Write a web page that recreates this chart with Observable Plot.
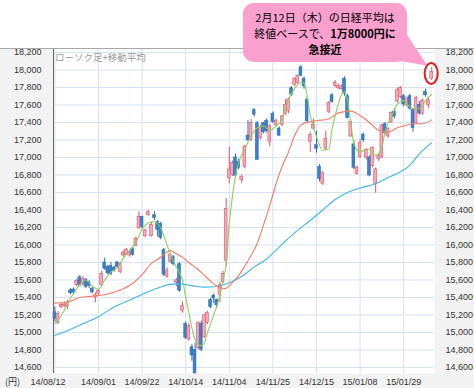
<!DOCTYPE html>
<html><head><meta charset="utf-8">
<script src="https://cdn.jsdelivr.net/npm/d3@7"></script>
<script src="https://cdn.jsdelivr.net/npm/@observablehq/plot@0.6"></script>
<style>
body{margin:0;background:#fff;width:474px;height:388px;position:relative;overflow:hidden;font-family:"Liberation Sans",Arial,sans-serif;}
#bg{position:absolute;left:0;top:49px;width:474px;height:339px;background:#f2f2f2;}
#chart{position:absolute;left:0;top:44px;width:474px;height:344px;}
#chart svg{display:block;}
#topline{position:absolute;left:0;top:48px;width:474px;height:1px;background:#a8a8a8;z-index:2;}
#yen{position:absolute;left:5px;top:375px;font-size:9px;color:#333;font-family:"Noto Sans CJK JP",sans-serif;}
#ttl{position:absolute;left:55px;top:51px;font-size:9.5px;color:#9a9a9a;font-family:"Noto Sans CJK JP",sans-serif;line-height:13px;}
#callout{position:absolute;left:243px;top:3px;width:164px;height:59px;border-radius:11px;background:#f9a0cf;z-index:4;
 font-family:"Noto Sans CJK JP",sans-serif;font-size:11px;text-align:center;color:#000;box-sizing:border-box;padding-top:6px;}
#callout div{height:16px;line-height:16px;white-space:nowrap;}
#ov{position:absolute;left:0;top:0;z-index:3;}
</style></head>
<body>
<div id="bg"></div>
<div id="chart"></div>
<div id="topline"></div>
<div id="ttl">ローソク足+移動平均</div>
<div id="yen">(円)</div>
<svg id="ov" width="474" height="388"><polygon id="tail" fill="#f9a0cf"/><ellipse id="ring" fill="none" stroke="#dd1f26" stroke-width="2"/></svg>
<div id="callout"><div>2月12日（木）の日経平均は</div><div>終値ベースで、<b>1万8000円に</b></div><div><b>急接近</b></div></div>
<script>
const dates = ["08/12","08/13","08/14","08/15","08/18","08/19","08/20","08/21","08/22","08/25",
"08/26","08/27","08/28","08/29","09/01","09/02","09/03","09/04","09/05","09/08",
"09/09","09/10","09/11","09/12","09/16","09/17","09/18","09/19","09/22","09/24",
"09/25","09/26","09/29","09/30","10/01","10/02","10/03","10/06","10/07","10/08",
"10/09","10/10","10/14","10/15","10/16","10/17","10/20","10/21","10/22","10/23",
"10/24","10/27","10/28","10/29","10/30","10/31","11/04","11/05","11/06","11/07",
"11/10","11/11","11/12","11/13","11/14","11/17","11/18","11/19","11/20","11/21",
"11/25","11/26","11/27","11/28","12/01","12/02","12/03","12/04","12/05","12/08",
"12/09","12/10","12/11","12/12","12/15","12/16","12/17","12/18","12/19","12/22",
"12/24","12/25","12/26","12/29","12/30","01/05","01/06","01/07","01/08","01/09",
"01/13","01/14","01/15","01/16","01/19","01/20","01/21","01/22","01/23","01/26",
"01/27","01/28","01/29","01/30","02/02","02/03","02/04","02/05","02/06","02/09",
"02/10","02/12"];
const open = [15230,15110,15290,15300,15300,15480,15490,15540,15630,15550,
15600,15570,15500,15400,15440,15540,15800,15750,15760,15740,
15800,15690,15880,15890,15880,15950,15990,16190,16320,16100,
16340,16100,16340,16260,16240,15940,15640,15810,15860,15570,
15780,15250,15100,14920,14830,14800,14820,15100,14950,15110,
15370,15420,15370,15430,15575,15820,16760,16800,17000,16950,
16740,16890,17250,17200,17540,17390,17220,17390,17420,17180,
17500,17370,17330,17370,17500,17530,17790,17830,17850,18030,
17900,17660,17180,17330,17140,16890,16700,17100,17520,17710,
17820,17790,17780,17900,17700,17240,17150,16810,17000,17260,
17000,17000,16900,16700,16980,17000,17380,17240,17400,17520,
17640,17690,17700,17600,17700,17540,17400,17600,17500,17750,
17600,17900];
const high = [15290,15240,15340,15350,15370,15500,15510,15610,15650,15640,
15620,15590,15520,15450,15490,15700,15850,15770,15800,15760,
15810,15800,15930,15960,15940,15970,16090,16380,16330,16180,
16400,16260,16380,16280,16260,15960,15740,15900,15880,15620,
15800,15350,15120,15100,14860,14880,15120,15130,15210,15240,
15390,15440,15380,15570,15700,16530,17120,16960,17040,16980,
16800,17140,17420,17430,17560,17410,17370,17400,17440,17380,
17520,17440,17350,17480,17660,17680,17810,17910,17940,18050,
17920,17690,17290,17440,17300,16920,16840,17300,17640,17730,
17880,17840,17830,17920,17720,17420,17190,16900,17200,17280,
17100,17020,17120,16880,17040,17380,17400,17340,17520,17560,
17790,17810,17720,17690,17720,17560,17700,17640,17670,17780,
17680,18030];
const low = [15120,15090,15270,15280,15260,15430,15430,15520,15520,15530,
15500,15500,15440,15340,15420,15520,15710,15660,15650,15690,
15730,15670,15860,15880,15860,15870,15980,16180,16180,16080,
16330,16090,16280,16090,16060,15640,15620,15790,15760,15520,
15460,15220,14920,14900,14670,14529,14800,14780,14930,15090,
15270,15330,15280,15340,15560,15750,16700,16780,16770,16860,
16700,16870,17180,17180,17460,16970,17200,17270,17280,17120,
17390,17350,17240,17350,17480,17500,17700,17810,17830,17920,
17780,17400,17060,17310,17050,16720,16680,17080,17500,17620,
17800,17780,17770,17700,17440,17230,16860,16800,16990,17170,
16970,16780,16880,16592,16950,16990,17260,17220,17390,17440,
17620,17670,17580,17580,17540,17290,17380,17480,17480,17690,
17560,17880];
const close = [15161,15213,15314,15318,15322,15449,15454,15586,15539,15613,
15521,15534,15459,15424,15476,15668,15728,15676,15668,15705,
15749,15788,15909,15948,15911,15888,16067,16321,16205,16167,
16374,16229,16310,16173,16082,15661,15708,15890,15783,15595,
15478,15300,14936,15073,14738,14532,15111,14804,15195,15220,
15291,15388,15310,15540,15670,16413,16862,16937,16792,16880,
16780,17124,17197,17392,17490,16973,17344,17288,17300,17357,
17407,17420,17250,17470,17600,17663,17720,17900,17930,17935,
17813,17412,17257,17371,17099,16755,16819,17210,17621,17635,
17854,17818,17808,17729,17450,17408,16883,16885,17167,17197,
17087,16795,17108,16864,17014,17366,17280,17329,17511,17468,
17768,17795,17606,17674,17558,17335,17678,17504,17648,17711,
17652,17979];
// moving averages: [day index, value]
const ma5 = [[0,15100],[1,15140],[3,15250],[5,15390],[7,15500],[8,15550],[10,15600],[12,15530],[14,15495],[16,15600],[18,15690],[20,15740],[22,15850],[24,15940],[26,16030],[28,16180],[30,16250],[32,16265],[34,16190],[36,16000],[38,15820],[40,15680],[41,15600],[42,15400],[43,15230],[44,15050],[45,14920],[46,14870],[47,14850],[48,14880],[49,15000],[50,15100],[51,15200],[52,15300],[53,15430],[54,15600],[55,15780],[56,16250],[57,16550],[58,16790],[59,16940],[61,17090],[63,17250],[65,17340],[67,17360],[69,17310],[71,17360],[73,17440],[75,17660],[77,17790],[79,17860],[80,17850],[81,17700],[82,17480],[84,17240],[86,17080],[88,17100],[89,17320],[91,17610],[92,17720],[93,17750],[94,17650],[95,17400],[96,17160],[98,17060],[100,17100],[102,17060],[103,17020],[105,17120],[106,17290],[108,17460],[110,17610],[112,17650],[114,17580],[116,17550],[118,17590],[119,17650],[121,17720]];
const ma25 = [[0,15335],[4,15345],[8,15400],[12,15415],[15,15425],[19,15460],[22,15500],[25,15560],[28,15660],[31,15790],[34,15860],[36,15920],[37,15935],[39,15900],[41,15860],[43,15800],[46,15720],[49,15620],[52,15530],[54,15500],[55,15505],[57,15570],[59,15650],[61,15760],[63,15880],[65,16020],[67,16230],[69,16450],[71,16700],[73,16900],[75,17060],[77,17250],[79,17370],[81,17400],[84,17420],[88,17440],[91,17510],[95,17530],[98,17480],[101,17400],[104,17310],[107,17290],[110,17340],[112,17360],[115,17385],[118,17385],[121,17430]];
const ma75 = [[0,14965],[4,15020],[9,15100],[14,15180],[19,15290],[24,15370],[29,15450],[34,15520],[37,15550],[40,15555],[44,15535],[48,15518],[52,15525],[55,15555],[60,15640],[64,15750],[68,15840],[73,16010],[78,16170],[82,16280],[86,16400],[90,16520],[94,16600],[98,16650],[103,16700],[107,16770],[110,16820],[114,16910],[117,17040],[121,17170]];
const xTickIdx = [0,14,28,42,56,70,84,98,112];
const xTickLabels = ["14/08/12","14/09/01","14/09/22","14/10/14","14/11/04","14/11/25","14/12/15","15/01/08","15/01/29"];
const yTicks = [14600,14800,15000,15200,15400,15600,15800,16000,16200,16400,16600,16800,17000,17200,17400,17600,17800,18000,18200];
const xDomain = [-0.45, 121.9];
const yDomain = [14531, 18234];

const candles = dates.map((d,i)=>({i, d, o:open[i], h:high[i], l:low[i], c:close[i], up: close[i] >= open[i]}));
const toPts = a => a.map(([i,v])=>({i,v}));
const UPF="#f3a9b9", UPS="#d9576c", DNF="#3d82c6", DNS="#2b6cb3";
const fmt = d3.format(",");
const lab = i => xTickLabels[xTickIdx.indexOf(i)];
const TOP = 44, MT = 5;

const chart = Plot.plot({
  width:474, height:344, marginLeft:53, marginRight:40, marginTop:MT, marginBottom:15,
  x:{type:"linear", domain:xDomain, axis:null, label:null},
  y:{domain:yDomain, axis:null, label:null},
  style:{background:"transparent", fontFamily:"'Liberation Sans',Arial,sans-serif", fontSize:"9px", color:"#333"},
  marks:[
    Plot.frame({fill:"#fff", stroke:null}),
    Plot.ruleY(yTicks,{stroke:"#d6e1f3", strokeWidth:1}),
    Plot.ruleX(xTickIdx,{stroke:"#d6e1f3", strokeWidth:1}),
    Plot.ruleX([xDomain[0]],{stroke:"#6a6a6a", strokeWidth:1}),
    Plot.axisY(yTicks,{anchor:"left", label:null, tickSize:0, tickPadding:12, tickFormat:fmt, fill:"#333"}),
    Plot.axisY(yTicks,{anchor:"right", label:null, tickSize:0, tickPadding:11, tickFormat:fmt, fill:"#333"}),
    Plot.axisX(xTickIdx.slice(0,1),{anchor:"bottom", label:null, tickSize:0, tickPadding:5, tickFormat:lab, dx:-7, fill:"#333"}),
    Plot.axisX(xTickIdx.slice(1),{anchor:"bottom", label:null, tickSize:0, tickPadding:5, tickFormat:lab, fill:"#333"}),
    Plot.ruleX(candles,{x:"i", y1:"l", y2:"h", stroke:d=>d.up?UPS:DNS, strokeWidth:1}),
    Plot.rect(candles,{x1:d=>d.i-0.45, x2:d=>d.i+0.45, y1:"o", y2:"c", fill:d=>d.up?UPF:DNF, stroke:d=>d.up?UPS:DNS, strokeWidth:0.6}),
    Plot.line(toPts(ma75),{x:"i", y:"v", stroke:"#42b3ea", strokeWidth:1.1, curve:"monotone-x"}),
    Plot.line(toPts(ma25),{x:"i", y:"v", stroke:"#f27a66", strokeWidth:1.1, curve:"monotone-x"}),
    Plot.line(toPts(ma5),{x:"i", y:"v", stroke:"#8ccf5e", strokeWidth:1.1, curve:"monotone-x"})
  ]
});
document.getElementById("chart").append(chart);

const xs = chart.scale("x"), ys = chart.scale("y");
const last = candles[candles.length-1];
const cx = xs.apply(last.i), cy = TOP + ys.apply((last.h + last.l)/2);
const ring = document.getElementById("ring");
ring.setAttribute("cx", cx); ring.setAttribute("cy", cy);
ring.setAttribute("rx", 6.5); ring.setAttribute("ry", 10.5);
document.getElementById("tail").setAttribute("points", `404,30 394,60 ${cx-4},${cy-8}`);
</script>
</body></html>
